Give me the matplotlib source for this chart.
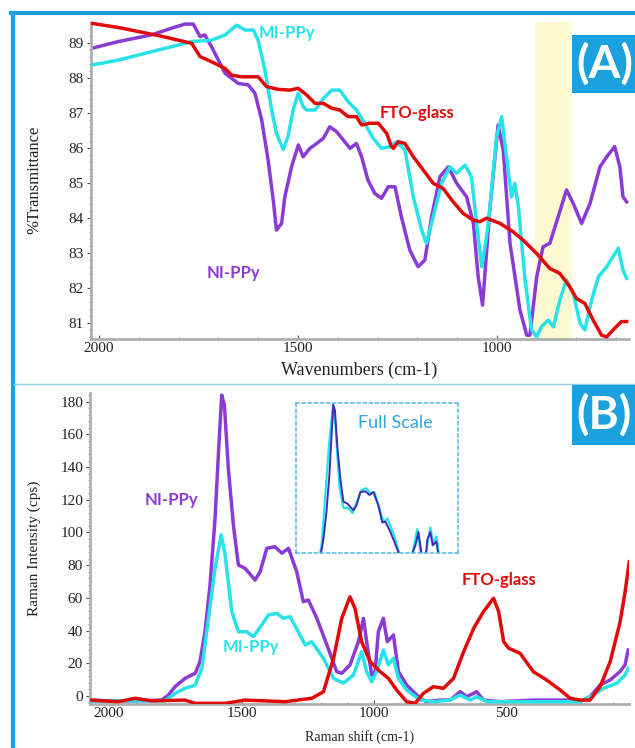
import numpy as np
import matplotlib.pyplot as plt
from matplotlib.patches import Rectangle
from matplotlib.lines import Line2D
from matplotlib.ticker import MultipleLocator

# ---- (A) FTIR data: wavenumber (cm-1), %T ----
ni_ir_wn = [2017, 1951, 1868, 1818, 1784, 1763, 1746, 1734, 1717, 1683, 1650, 1625, 1608, 1591,
            1575, 1562, 1554, 1541, 1533, 1516, 1499, 1487, 1470, 1453, 1436, 1420, 1403, 1386,
            1369, 1353, 1340, 1324, 1307, 1290, 1273, 1256, 1240, 1219, 1198, 1181, 1164, 1143,
            1122, 1101, 1076, 1059, 1047, 1036, 1018, 997, 984, 967, 942, 925, 917, 900, 884,
            867, 846, 825, 808, 787, 766, 741, 724, 704, 691, 683, 674]
ni_ir_t = [88.86, 89.05, 89.24, 89.43, 89.55, 89.55, 89.19, 89.24, 88.90, 88.14, 87.85, 87.81,
           87.57, 86.80, 85.66, 84.51, 83.65, 83.84, 84.60, 85.46, 86.09, 85.75, 85.99, 86.13,
           86.28, 86.61, 86.47, 86.23, 85.99, 86.13, 85.75, 85.08, 84.70, 84.56, 84.89, 84.89,
           84.03, 83.08, 82.60, 82.79, 84.03, 85.18, 85.46, 84.99, 84.60, 83.84, 82.31, 81.50,
           84.22, 86.66, 85.94, 83.27, 81.36, 80.64, 80.64, 82.31, 83.17, 83.27, 84.03, 84.80,
           84.41, 83.84, 84.41, 85.46, 85.75, 86.04, 85.46, 84.60, 84.46]

mi_ir_wn = [2017, 1951, 1868, 1801, 1767, 1717, 1683, 1654, 1633, 1612, 1600, 1583, 1566, 1554,
            1537, 1525, 1512, 1499, 1487, 1478, 1457, 1436, 1415, 1395, 1374, 1353, 1332, 1311,
            1290, 1269, 1252, 1231, 1210, 1189, 1177, 1160, 1139, 1118, 1101, 1080, 1064, 1051,
            1038, 1026, 1018, 1001, 988, 976, 963, 955, 946, 930, 913, 900, 888, 871, 858, 842,
            825, 808, 791, 779, 762, 745, 724, 708, 695, 683, 674]
mi_ir_t = [88.38, 88.52, 88.76, 88.95, 89.05, 89.09, 89.24, 89.52, 89.38, 89.38, 89.09, 88.24,
           87.09, 86.42, 85.96, 86.32, 87.09, 87.57, 87.18, 87.09, 87.09, 87.42, 87.66, 87.66,
           87.33, 87.09, 86.71, 86.28, 85.99, 86.04, 86.18, 85.94, 84.60, 83.65, 83.27, 84.03,
           84.99, 85.46, 85.28, 85.51, 85.18, 83.84, 82.60, 83.46, 84.22, 86.32, 86.90, 85.75,
           84.60, 84.99, 84.32, 82.31, 80.79, 80.59, 80.88, 81.07, 80.88, 81.64, 82.22, 81.83,
           80.98, 80.79, 81.64, 82.31, 82.60, 82.89, 83.13, 82.50, 82.27]

fto_ir_wn = [2017, 1950, 1850, 1767, 1746, 1717, 1683, 1667, 1642, 1600, 1579, 1550, 1520, 1499,
             1478, 1457, 1436, 1415, 1395, 1374, 1353, 1340, 1319, 1298, 1277, 1265, 1260, 1248,
             1231, 1210, 1185, 1160, 1135, 1110, 1085, 1060, 1043, 1026, 992, 959, 934, 900,
             867, 842, 817, 800, 779, 758, 737, 724, 708, 687, 674]
fto_ir_t = [89.57, 89.45, 89.22, 89.00, 88.62, 88.47, 88.28, 88.09, 88.04, 88.04, 87.76, 87.68,
            87.66, 87.71, 87.52, 87.28, 87.28, 87.14, 87.09, 86.90, 86.90, 86.66, 86.71, 86.71,
            86.42, 86.04, 85.99, 86.18, 86.13, 85.75, 85.37, 84.99, 84.84, 84.46, 84.13, 83.94,
            83.89, 83.99, 83.84, 83.60, 83.36, 82.98, 82.55, 82.41, 82.03, 81.69, 81.55, 81.07,
            80.64, 80.59, 80.79, 81.03, 81.03]

ir_xticks = [2000, 1500, 1000]
ir_yticks = [81, 82, 83, 84, 85, 86, 87, 88, 89]

# ---- (B) Raman data: shift (cm-1), intensity (cps) ----
ni_ra_s = [2065, 1900, 1801, 1776, 1751, 1713, 1675, 1657, 1638, 1619, 1600, 1587, 1575, 1565,
           1550, 1531, 1512, 1487, 1449, 1430, 1405, 1374, 1348, 1323, 1292, 1267, 1248, 1216,
           1178, 1141, 1122, 1091, 1059, 1040, 1028, 1009, 996, 984, 965, 950, 927, 908, 877,
           826, 801, 751, 713, 675, 650, 613, 587, 524, 399, 273, 223, 185, 147, 109, 72, 53, 41]
ni_ra_i = [-3, -3, -2.5, 0.6, 5.7, 10.8, 13.9, 21, 39.3, 67.9, 108.7, 149.4, 184, 178, 139.3,
           104.6, 80.1, 78.1, 70.9, 76, 90.3, 91.3, 87.3, 90.3, 76, 57.7, 58.7, 47.5, 31.2, 14.9,
           13.9, 19, 33.2, 47.5, 33.2, 12.8, 14.9, 39.3, 47.5, 33.2, 37.3, 14.9, 6.7, -1.4, -3.5,
           -2.5, -2.5, 2.6, -0.4, 2.6, -2.5, -3.5, -2.5, -2.5, -3.5, -0.4, 6.7, 9.8, 14.9, 19, 28.1]

mi_ra_s = [2065, 1789, 1751, 1713, 1675, 1650, 1625, 1600, 1577, 1562, 1537, 1512, 1481, 1455,
           1424, 1399, 1367, 1342, 1317, 1286, 1260, 1235, 1191, 1153, 1116, 1078, 1047, 1028,
           1009, 990, 965, 946, 927, 908, 877, 826, 776, 713, 675, 637, 613, 575, 399, 223, 172,
           134, 84, 53, 41]
mi_ra_i = [-3, -3, 1.6, 4.7, 6.7, 16.9, 47.5, 78.1, 98.5, 86.2, 51.6, 39.3, 39.3, 36.3, 43.4,
           49.5, 50.6, 47.5, 48.5, 39.3, 31.2, 33.2, 23, 10.8, 7.8, 12.8, 27.1, 14.9, 8.7, 14.9,
           28.1, 19, 23, 10.8, 3.7, -2.5, -3.5, -2.5, 0.6, -2.5, -0.4, -3.5, -3.5, -3.5, 0.6, 4.7,
           7.8, 12.8, 16.9]

fto_ra_s = [2065, 1965, 1902, 1839, 1713, 1675, 1562, 1487, 1336, 1235, 1191, 1153, 1122, 1091,
            1072, 1047, 1015, 977, 946, 915, 877, 845, 814, 776, 738, 700, 662, 624, 587, 549,
            530, 511, 492, 449, 399, 349, 298, 260, 223, 185, 147, 109, 72, 53, 37]
fto_ra_i = [-2.5, -3.5, -1.4, -3, -2.5, -4.5, -4.5, -2.5, -3.5, -1.4, 2.6, 23, 47.5, 60.7, 53.6,
            33.2, 21, 14.9, 10.8, 3.7, -3.5, -4.5, 1.6, 5.7, 4.7, 10.8, 27.1, 41.4, 51.6, 59.8,
            51.6, 33.2, 29.2, 26.1, 14.9, 9.8, 3.7, -1.4, -2.5, -2.5, 5.7, 21, 45, 63.4, 82.1]

ra_xticks = [2000, 1500, 1000, 500]
ra_yticks = [0, 20, 40, 60, 80, 100, 120, 140, 160, 180]

PURPLE = '#8A3BD6'
CYAN = '#27E3E8'
RED = '#E00A0A'
BLUE = '#1BA1DE'
SERIF = 'Liberation Serif'
SANS = 'Lato'
LW = 2.5

W, H = 635, 748
fig = plt.figure(figsize=(W / 100, H / 100), dpi=100)
fig.patch.set_facecolor('white')


def fx(px):
    return px / W


def fy(py):
    return 1 - py / H


def style_axes(ax):
    for s in ['top', 'right']:
        ax.spines[s].set_visible(False)
    for s in ['left', 'bottom']:
        ax.spines[s].set_color('#AFAFAF')
        ax.spines[s].set_linewidth(2)
    ax.tick_params(which='major', length=3, width=0.8, color='#555555', pad=2,
                   labelsize=11, labelcolor='#222222')
    ax.tick_params(which='minor', length=1.5, width=0.6, color='#777777')
    for lab in ax.get_xticklabels() + ax.get_yticklabels():
        lab.set_fontfamily(SERIF)


# ---- panel A ----
ax1 = fig.add_axes([fx(91), fy(339), fx(629) - fx(91), fy(22) - fy(339)])
ax1.axvspan(904, 812, color='#FDF9D0', zorder=0, lw=0)
ax1.plot(ni_ir_wn, ni_ir_t, color=PURPLE, lw=LW, zorder=2)
ax1.plot(mi_ir_wn, mi_ir_t, color=CYAN, lw=LW, zorder=3)
ax1.plot(fto_ir_wn, fto_ir_t, color=RED, lw=LW, zorder=4)
ax1.set_xlim(2020, 668)
ax1.set_ylim(80.53, 89.61)
ax1.set_xticks(ir_xticks)
ax1.set_yticks(ir_yticks)
ax1.xaxis.set_minor_locator(MultipleLocator(100))
ax1.yaxis.set_minor_locator(MultipleLocator(0.2))
ax1.tick_params(axis='x', which='both', direction='in')
ax1.tick_params(axis='x', which='major', pad=4)
style_axes(ax1)
ax1.text(1600, 89.30, 'MI-PPy', color=CYAN, fontsize=12, fontweight='bold',
         family=SANS, va='center', zorder=5)
ax1.text(1294, 87.0, 'FTO-glass', color=RED, fontsize=12, fontweight='bold',
         family=SANS, va='center', zorder=5)
ax1.text(1729, 82.42, 'NI-PPy', color=PURPLE, fontsize=12, fontweight='bold',
         family=SANS, va='center', zorder=5)

# ---- panel B ----
ax2 = fig.add_axes([fx(90), fy(704), fx(629) - fx(90), fy(393) - fy(704)])
ax2.plot(ni_ra_s, ni_ra_i, color=PURPLE, lw=LW, zorder=2)
ax2.plot(mi_ra_s, mi_ra_i, color=CYAN, lw=LW, zorder=3)
ax2.plot(fto_ra_s, fto_ra_i, color=RED, lw=LW, zorder=4)
ax2.set_xlim(2072, 38)
ax2.set_ylim(-4.9, 185.3)
ax2.set_xticks(ra_xticks)
ax2.set_yticks(ra_yticks)
ax2.xaxis.set_minor_locator(MultipleLocator(100))
ax2.yaxis.set_minor_locator(MultipleLocator(4))
ax2.tick_params(axis='x', which='both', direction='in')
ax2.tick_params(axis='x', which='major', pad=4)
style_axes(ax2)
ax2.text(1864, 119.9, 'NI-PPy', color=PURPLE, fontsize=12, fontweight='bold',
         family=SANS, va='center', zorder=5)
ax2.text(1570, 30, 'MI-PPy', color=CYAN, fontsize=12, fontweight='bold',
         family=SANS, va='center', zorder=5)
ax2.text(668, 71, 'FTO-glass', color=RED, fontsize=12, fontweight='bold',
         family=SANS, va='center', zorder=5)

# ---- inset: full scale ----
scale = max(ni_ra_i) / max(mi_ra_i)
axi = fig.add_axes([fx(296), fy(553), fx(458) - fx(296), fy(403) - fy(553)])
axi.set_facecolor('none')
axi.plot(mi_ra_s, np.array(mi_ra_i) * scale, color=CYAN, lw=1.6)
axi.plot(ni_ra_s, ni_ra_i, color='#3E2CB4', lw=1.4)
axi.set_xlim(1810, 791)
axi.set_ylim(25, 186)
axi.set_xticks([])
axi.set_yticks([])
for s in axi.spines.values():
    s.set_linestyle((0, (2, 2)))
    s.set_color('#55B8E2')
    s.set_linewidth(1.1)
axi.text(0.383, 0.867, 'Full Scale', transform=axi.transAxes, color='#2FA6DC',
         fontsize=13, family=SANS, va='center')

# ---- axis titles ----
fig.text(fx(34), fy(180), '%Transmittance', rotation=90, ha='center', va='center',
         family=SERIF, fontsize=12, color='#222222')
fig.text(fx(359), fy(370), 'Wavenumbers (cm-1)', ha='center', va='center',
         family=SERIF, fontsize=13, color='#222222')
fig.text(fx(34), fy(548), 'Raman Intensity (cps)', rotation=90, ha='center', va='center',
         family=SERIF, fontsize=11, color='#222222')
fig.text(fx(360), fy(737), 'Raman shift (cm-1)', ha='center', va='center',
         family=SERIF, fontsize=10, color='#222222')

# ---- panel tags ----
fig.patches.append(Rectangle((fx(572), fy(93)), 1 - fx(572) + 0.01, fy(35) - fy(93),
                             transform=fig.transFigure, facecolor=BLUE, edgecolor='none',
                             zorder=10))
fig.text(fx(576), fy(64), '(A)', color='white', fontsize=33, fontweight='bold',
         family=SANS, va='center', ha='left', zorder=11)
fig.patches.append(Rectangle((fx(572), fy(445)), 1 - fx(572) + 0.01, fy(385) - fy(445),
                             transform=fig.transFigure, facecolor=BLUE, edgecolor='none',
                             zorder=10))
fig.text(fx(576), fy(415), '(B)', color='white', fontsize=33, fontweight='bold',
         family=SANS, va='center', ha='left', zorder=11)

# ---- frame and separator ----
fig.lines.append(Line2D([fx(12.5), fx(12.5)], [0, fy(13)], transform=fig.transFigure,
                        color=BLUE, lw=3))
fig.lines.append(Line2D([fx(11), 1], [fy(13), fy(13)], transform=fig.transFigure,
                        color=BLUE, lw=3))
fig.lines.append(Line2D([fx(14), 1], [fy(383.5), fy(383.5)], transform=fig.transFigure,
                        color='#8ED2EE', lw=1))

fig.savefig('out.png', dpi=100)
